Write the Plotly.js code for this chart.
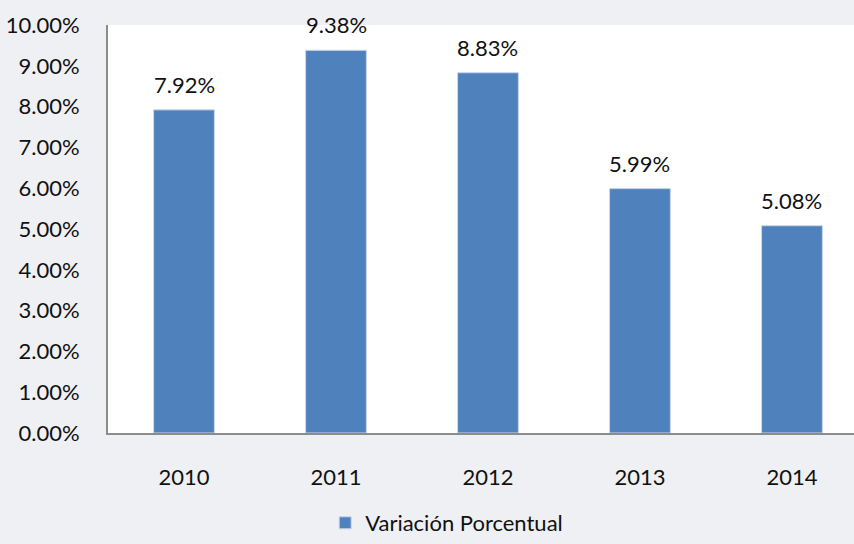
<!DOCTYPE html>
<html><head><meta charset="utf-8">
<script src="https://cdn.plot.ly/plotly-3.0.1.min.js"></script>
<style>html,body{margin:0;padding:0;background:#eef0f3;}#chart{width:854px;height:544px;}</style>
</head><body><div id="chart"></div>
<script>
const years = ['2010','2011','2012','2013','2014'];
const variacion = [0.0792, 0.0938, 0.0883, 0.0599, 0.0508];
const seriesName = 'Variación Porcentual';
const fontFam = 'Lato, "Open Sans", sans-serif';

const trace = {
  type: 'bar', x: years, y: variacion, name: seriesName,
  marker: {color: '#4f81bd', line: {color: '#c9d6ea', width: 1}},
  hoverinfo: 'none', cliponaxis: false
};
const annotations = years.map((yr, i) => ({
  x: i, y: variacion[i], xref: 'x', yref: 'y',
  text: (variacion[i]*100).toFixed(2) + '%',
  showarrow: false, yanchor: 'bottom', yshift: 10,
  font: {family: fontFam, size: 22, color: '#111'}
}));
const layout = {
  width: 854, height: 544,
  margin: {l: 108, r: 0, t: 25, b: 103},
  paper_bgcolor: '#eef0f3', plot_bgcolor: '#ffffff',
  font: {family: fontFam, size: 22, color: '#111'},
  bargap: 0.6,
  showlegend: true,
  legend: {orientation: 'h', x: 0.454, xref: 'paper', xanchor: 'center', y: -0.17, yanchor: 'top',
           itemwidth: 30, font: {family: fontFam, size: 22, color: '#111'}, bgcolor: 'rgba(0,0,0,0)'},
  xaxis: {type: 'category', range: [-0.5, 4.408], showline: true, linecolor: '#8c8c8c', linewidth: 2,
          ticks: '', showgrid: false, tickfont: {size: 22}, ticklabelstandoff: 24, fixedrange: true},
  yaxis: {range: [0, 0.1], dtick: 0.01, tickformat: '.2%', showline: true, linecolor: '#8c8c8c', linewidth: 2,
          ticks: '', showgrid: false, zeroline: false, tickfont: {size: 22}, ticklabelstandoff: 22, fixedrange: true},
  annotations: annotations
};
Plotly.newPlot('chart', [trace], layout, {displayModeBar: false, staticPlot: true});
</script></body></html>
